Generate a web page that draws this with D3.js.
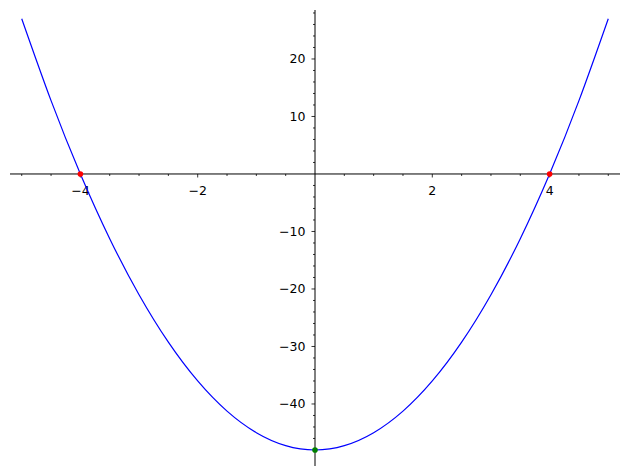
<!DOCTYPE html>
<html><head><meta charset="utf-8">
<script src="https://cdn.jsdelivr.net/npm/d3@7"></script>
<style>body{margin:0;background:#fff}svg{display:block}text{font-family:"DejaVu Sans",sans-serif;font-size:12.5px;fill:#000}</style>
</head><body><svg id="c" width="630" height="470"></svg>
<script>
// Curve samples
const xs = [-5,-4.5,-4,-3.5,-3,-2.5,-2,-1.5,-1,-0.5,0,0.5,1,1.5,2,2.5,3,3.5,4,4.5,5];
const ys = [27,12.75,0,-11.25,-21,-29.25,-36,-41.25,-45,-47.25,-48,-47.25,-45,-41.25,-36,-29.25,-21,-11.25,0,12.75,27];
// Marked points
const redX = [-4,4], redY = [0,0];
const greenX = [0], greenY = [-48];
// Tick labels
const xMajor = [-4,-2,2,4];
const yMajor = [-40,-30,-20,-10,10,20];

const svg = d3.select("#c");
const x = d3.scaleLinear().domain([-5.2,5.2]).range([10,620]);
const y = d3.scaleLinear().domain([-49.5,28.5]).range([458.6,10.1]);
const fmt = v => String(v).replace("-","\u2212");

// x axis
const x0 = y(0), y0 = x(0);
svg.append("line").attr("x1",10).attr("x2",620).attr("y1",x0).attr("y2",x0).attr("stroke","#000").attr("stroke-width",1);
const xMinor = d3.range(-5,5.01,0.5).filter(v=>Math.abs(v)>1e-9);
svg.selectAll(".xm").data(xMinor).enter().append("line")
  .attr("x1",d=>x(d)).attr("x2",d=>x(d)).attr("y1",x0).attr("y2",d=>x0+(xMajor.includes(d)?3.5:2))
  .attr("stroke","#000").attr("stroke-width",0.8);
svg.selectAll(".xl").data(xMajor).enter().append("text")
  .attr("x",d=>x(d)).attr("y",x0+21).attr("text-anchor","middle").text(fmt);

// y axis
svg.append("line").attr("x1",y0).attr("x2",y0).attr("y1",10).attr("y2",466).attr("stroke","#000").attr("stroke-width",1);
const yMinor = d3.range(-48,28.01,2).filter(v=>v!==0);
svg.selectAll(".ym").data(yMinor).enter().append("line")
  .attr("x1",y0).attr("x2",d=>y0-(yMajor.includes(d)?3.5:2)).attr("y1",d=>y(d)).attr("y2",d=>y(d))
  .attr("stroke","#000").attr("stroke-width",0.8);
svg.selectAll(".yl").data(yMajor).enter().append("text")
  .attr("x",y0-9.5).attr("y",d=>y(d)).attr("dy","0.36em").attr("text-anchor","end").text(fmt);

// curve
const pts = xs.map((v,i)=>[v,ys[i]]);
svg.append("path").datum(pts)
  .attr("d",d3.line().x(d=>x(d[0])).y(d=>y(d[1])).curve(d3.curveNatural))
  .attr("fill","none").attr("stroke","#0000ff").attr("stroke-width",1.2);

// points
svg.selectAll(".r").data(redX).enter().append("circle")
  .attr("cx",d=>x(d)).attr("cy",(d,i)=>y(redY[i])).attr("r",2.8).attr("fill","#ff0000");
svg.selectAll(".g").data(greenX).enter().append("circle")
  .attr("cx",d=>x(d)).attr("cy",(d,i)=>y(greenY[i])).attr("r",2.8).attr("fill","#008000");
</script></body></html>
